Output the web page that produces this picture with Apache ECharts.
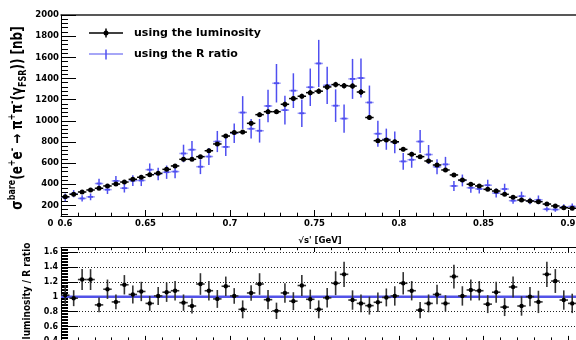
<!DOCTYPE html>
<html><head><meta charset="utf-8">
<script src="https://cdn.jsdelivr.net/npm/echarts@6/dist/echarts.min.js"></script>
<style>html,body{margin:0;padding:0;background:#fff}#c{width:576px;height:340px}</style>
</head><body><div id="c"></div>
<script>
// ---------------- data ----------------
const binCenters = [0.6025,0.6075,0.6125,0.6175,0.6225,0.6275,0.6325,0.6375,0.6425,0.6475,
  0.6525,0.6575,0.6625,0.6675,0.6725,0.6775,0.6825,0.6875,0.6925,0.6975,
  0.7025,0.7075,0.7125,0.7175,0.7225,0.7275,0.7325,0.7375,0.7425,0.7475,
  0.7525,0.7575,0.7625,0.7675,0.7725,0.7775,0.7825,0.7875,0.7925,0.7975,
  0.8025,0.8075,0.8125,0.8175,0.8225,0.8275,0.8325,0.8375,0.8425,0.8475,
  0.8525,0.8575,0.8625,0.8675,0.8725,0.8775,0.8825,0.8875,0.8925,0.8975,
  0.9025];
const binHalfWidth = 0.0025;
const lumiXsec = [282,305,327,346,362,384,402,421,447,466,
  490,503,541,573,636,636,661,717,781,856,
  889,893,976,1058,1086,1086,1156,1210,1232,1266,
  1280,1320,1342,1332,1328,1272,1031,812,818,802,
  730,683,661,620,582,535,488,440,400,384,
  352,336,305,277,251,242,235,213,195,178,
  173];
const lumiErr = [8,8,9,9,9,10,10,10,11,11,12,12,13,13,14,14,15,16,17,18,
  19,19,20,22,22,22,23,24,24,25,25,26,26,26,26,25,22,18,18,18,
  17,16,15,15,14,13,12,11,10,10,9,9,8,8,7,7,7,6,6,6,6];
const rratioXsec = [276,311,266,281,407,349,432,363,434,436,
  538,498,514,520,691,727,566,662,804,753,
  882,1078,925,906,1140,1355,1101,1285,1071,1317,
  1542,1335,1143,1021,1396,1404,1173,878,826,796,
  616,632,804,681,565,588,384,436,367,356,
  391,317,355,245,287,242,253,164,161,186,
  190];
const rratioErr = [36,34,30,32,46,41,46,41,51,53,
  59,59,63,64,83,83,70,80,100,86,
  92,155,93,112,153,182,136,164,130,177,
  223,177,154,134,189,184,160,123,100,102,
  79,76,108,90,71,71,48,56,47,43,
  52,42,50,30,43,31,41,21,21,25,
  27];
const ratio = [1.02,0.98,1.23,1.23,0.89,1.10,0.93,1.16,1.03,1.07,
  0.91,1.01,1.06,1.08,0.92,0.875,1.17,1.08,0.97,1.14,
  1.01,0.83,1.05,1.17,0.96,0.81,1.05,0.94,1.15,0.965,
  0.83,0.985,1.18,1.30,0.955,0.91,0.88,0.925,0.99,1.01,
  1.18,1.08,0.82,0.91,1.03,0.91,1.27,1.01,1.09,1.08,
  0.90,1.06,0.86,1.13,0.875,1.00,0.93,1.30,1.21,0.955,
  0.91];
const ratioErr = [0.134,0.107,0.14,0.14,0.10,0.13,0.10,0.13,0.12,0.13,
  0.10,0.12,0.13,0.13,0.11,0.10,0.145,0.13,0.12,0.13,
  0.105,0.12,0.105,0.145,0.13,0.11,0.13,0.12,0.14,0.13,
  0.12,0.13,0.16,0.17,0.13,0.12,0.12,0.13,0.12,0.13,
  0.15,0.13,0.11,0.12,0.13,0.11,0.16,0.13,0.14,0.13,
  0.12,0.14,0.12,0.14,0.13,0.13,0.15,0.17,0.16,0.13,
  0.13];
const ratioRef = 1;
const xMajorTicks = [0.6,0.65,0.7,0.75,0.8,0.85,0.9];
const yMajorTicks = [200,400,600,800,1000,1200,1400,1600,1800,2000];
const ratioMajorTicks = [0.4,0.6,0.8,1.0,1.2,1.4,1.6];
const legendLabels = ['using the luminosity','using the R ratio'];
const xTitle = '\u221As\' [GeV]';
const ratioTitle = 'luminosity / R ratio';

// minor tick positions (axis decoration)
const xMinorTicks = []; for (let k = 60; k <= 90; k++) xMinorTicks.push(k / 100);
const yMinorTicks = []; for (let v = 120; v <= 2000; v += 40) yMinorTicks.push(v);
const ratioMinorTicks = []; for (let k = 21; k <= 82; k++) ratioMinorTicks.push(+(k * 0.02).toFixed(2));

// ---------------- style ----------------
const FONT = '"DejaVu Sans", sans-serif';
const BLUE = '#4f4ff0', BLUE_L = '#9a9af5';
const xMin = 0.6, xMax = 0.9071;
const yMin = 100, yMax = 2000;
const rMin = 0.4, rMax = 1.66;

function tickAxis(extra) {
  return Object.assign({
    type: 'value', min: xMin, max: xMax,
    axisLine: {show: false, onZero: false},
    axisLabel: {show: false}, splitLine: {show: false}
  }, extra);
}

function errRender(vColor, hColor, lw, markerR, markerColor, centerDash) {
  return function (params, api) {
    const x = api.value(0), y = api.value(1), e = api.value(2);
    const c = api.coord([x, y]);
    const t = api.coord([x, y + e]);
    const b = api.coord([x, y - e]);
    const l = api.coord([x - binHalfWidth, y]);
    const r = api.coord([x + binHalfWidth, y]);
    const ch = [
      {type: 'line', shape: {x1: l[0], y1: c[1], x2: r[0], y2: c[1]}, style: {stroke: hColor, lineWidth: lw}},
      {type: 'line', shape: {x1: c[0], y1: t[1], x2: c[0], y2: b[1]}, style: {stroke: vColor, lineWidth: lw}}
    ];
    if (centerDash) ch.push({type: 'line', shape: {x1: c[0] - 2.5, y1: c[1], x2: c[0] + 2.5, y2: c[1]}, style: {stroke: vColor, lineWidth: lw + 0.3}});
    if (markerR) ch.push({type: 'circle', shape: {cx: c[0], cy: c[1], r: markerR}, style: {fill: markerColor}});
    return {type: 'group', children: ch};
  };
}

const chart = echarts.init(document.getElementById('c'), null, {renderer: 'canvas'});
const labelFont = {fontFamily: FONT, fontWeight: 'bold', color: '#000'};

const option = {
  animation: false,
  backgroundColor: '#fff',
  grid: [
    {left: 61, top: 15, right: -4, height: 201, outerBoundsMode: 'none'},
    {left: 61, top: 247.5, right: -4, height: 93.9, outerBoundsMode: 'none'}
  ],
  xAxis: [
    {type: 'value', gridIndex: 0, position: 'bottom', min: xMin, max: xMax,
      axisLine: {show: true, onZero: false, lineStyle: {color: '#000', width: 1}},
      axisTick: {show: true, inside: true, length: 6, customValues: xMajorTicks, lineStyle: {color: '#000'}},
      axisLabel: Object.assign({show: true, customValues: xMajorTicks, fontSize: 8.5, margin: 3,
        formatter: v => (Math.abs(v - xMin) < 1e-9 ? '{s|' + v + '}' : String(v)),
        rich: {s: {padding: [0, 0, 0, 8], fontSize: 8.5, fontFamily: FONT, fontWeight: 'bold', color: '#000'}}}, labelFont),
      splitLine: {show: false}},
    tickAxis({gridIndex: 0, position: 'bottom', axisTick: {show: true, inside: true, length: 3.3, customValues: xMinorTicks, lineStyle: {color: '#000'}}}),
    tickAxis({gridIndex: 0, position: 'top', axisLine: {show: true, onZero: false, lineStyle: {color: '#222', width: 1.5}}, axisTick: {show: false}}),
    tickAxis({gridIndex: 1, position: 'bottom', axisLine: {show: true, onZero: false, lineStyle: {color: '#000'}},
      axisTick: {show: true, inside: true, length: 5.5, customValues: xMajorTicks, lineStyle: {color: '#000'}}}),
    tickAxis({gridIndex: 1, position: 'bottom', axisTick: {show: true, inside: true, length: 4, customValues: xMinorTicks, lineStyle: {color: '#000'}}}),
    tickAxis({gridIndex: 1, position: 'top', axisLine: {show: true, onZero: false, lineStyle: {color: '#000'}},
      axisTick: {show: true, inside: true, length: 4.5, customValues: xMajorTicks, lineStyle: {color: '#000'}}}),
    tickAxis({gridIndex: 1, position: 'top', axisTick: {show: true, inside: true, length: 2.7, customValues: xMinorTicks, lineStyle: {color: '#000'}}})
  ],
  yAxis: [
    {type: 'value', gridIndex: 0, position: 'left', min: yMin, max: yMax,
      axisLine: {show: true, onZero: false, lineStyle: {color: '#000'}},
      axisTick: {show: true, inside: true, length: 15, customValues: yMajorTicks, lineStyle: {color: '#000'}},
      axisLabel: Object.assign({show: true, customValues: yMajorTicks, fontSize: 8.5, margin: 2,
        formatter: v => String(v)}, labelFont),
      splitLine: {show: false}},
    {type: 'value', gridIndex: 0, position: 'left', min: yMin, max: yMax,
      axisLine: {show: false, onZero: false}, axisLabel: {show: false}, splitLine: {show: false},
      axisTick: {show: true, inside: true, length: 7, customValues: yMinorTicks, lineStyle: {color: '#000'}}},
    {type: 'value', gridIndex: 1, position: 'left', min: rMin, max: rMax, interval: 0.2,
      axisLine: {show: true, onZero: false, lineStyle: {color: '#000'}},
      axisTick: {show: true, inside: true, length: 17, customValues: ratioMajorTicks, lineStyle: {color: '#000'}},
      axisLabel: Object.assign({show: true, customValues: ratioMajorTicks, fontSize: 8, margin: 3,
        formatter: v => String(+v.toFixed(2))}, labelFont),
      splitLine: {show: true, lineStyle: {color: '#222', width: 1, type: [1, 2]}}},
    {type: 'value', gridIndex: 1, position: 'left', min: rMin, max: rMax,
      axisLine: {show: false, onZero: false}, axisLabel: {show: false}, splitLine: {show: false},
      axisTick: {show: true, inside: true, length: 7, customValues: ratioMinorTicks, lineStyle: {color: '#000'}}}
  ],
  series: [
    {type: 'custom', name: legendLabels[1], xAxisIndex: 0, yAxisIndex: 0, z: 3,
      encode: {x: 0, y: 1},
      data: binCenters.map((x, i) => [x, rratioXsec[i], rratioErr[i]]),
      renderItem: errRender(BLUE, BLUE_L, 1.5, 0, null, true)},
    {type: 'custom', name: legendLabels[0], xAxisIndex: 0, yAxisIndex: 0, z: 4,
      encode: {x: 0, y: 1},
      data: binCenters.map((x, i) => [x, lumiXsec[i], lumiErr[i]]),
      renderItem: errRender('#000', '#000', 1.5, 2.5, '#000', false)},
    {type: 'line', xAxisIndex: 3, yAxisIndex: 2, z: 3, showSymbol: false, symbol: 'none',
      data: [[xMin, ratioRef], [xMax, ratioRef]],
      lineStyle: {color: '#5252e8', width: 2.4}},
    {type: 'custom', xAxisIndex: 3, yAxisIndex: 2, z: 4,
      encode: {x: 0, y: 1},
      data: binCenters.map((x, i) => [x, ratio[i], ratioErr[i]]),
      renderItem: errRender('#333', '#333', 1.6, 2.2, '#000', false)}
  ],
  graphic: [
    {type: 'line', shape: {x1: 89, y1: 33, x2: 123, y2: 33}, style: {stroke: '#000', lineWidth: 1.5}},
    {type: 'line', shape: {x1: 106, y1: 28.5, x2: 106, y2: 37.5}, style: {stroke: '#000', lineWidth: 1.5}},
    {type: 'circle', shape: {cx: 106, cy: 33, r: 2.5}, style: {fill: '#000'}},
    {type: 'text', x: 134, y: 33, style: {text: legendLabels[0], font: 'bold 11px ' + FONT, fill: '#000', verticalAlign: 'middle'}},
    {type: 'line', shape: {x1: 89, y1: 54, x2: 123, y2: 54}, style: {stroke: BLUE, lineWidth: 1.2}},
    {type: 'line', shape: {x1: 106, y1: 49.5, x2: 106, y2: 59.5}, style: {stroke: BLUE, lineWidth: 1.5}},
    {type: 'text', x: 134, y: 54, style: {text: legendLabels[1], font: 'bold 11px ' + FONT, fill: '#000', verticalAlign: 'middle'}},
    {type: 'text', x: 50.5, y: 223.7, style: {text: '0', font: 'bold 8.5px ' + FONT, fill: '#000', align: 'center', verticalAlign: 'middle'}},
    {type: 'text', x: 320, y: 241, style: {text: xTitle, font: 'bold 8.5px ' + FONT, fill: '#000', align: 'center', verticalAlign: 'middle'}},
    {type: 'text', x: 27.5, y: 291, rotation: Math.PI / 2, scaleY: 1.15,
      style: {text: ratioTitle, font: 'bold 9px ' + FONT, fill: '#000', align: 'center', verticalAlign: 'middle'}},
    {type: 'text', x: 18, y: 118, rotation: Math.PI / 2, scaleY: 1.25,
      style: {
        text: '{m|\u03c3}{sup|bare}{m|(e}{sup|+}{m|e}{sup|-}{m| \u2192 \u03c0}{sup|+}{m|\u03c0}{sup|-}{m|(\u03b3}{sub|FSR}{m|)) [nb]}',
        align: 'center', verticalAlign: 'middle',
        rich: {
          m: {fontFamily: FONT, fontWeight: 'bold', fontSize: 12, lineHeight: 17, fill: '#000', color: '#000'},
          sup: {fontFamily: FONT, fontWeight: 'bold', fontSize: 8, lineHeight: 8, verticalAlign: 'top', fill: '#000', color: '#000'},
          sub: {fontFamily: FONT, fontWeight: 'bold', fontSize: 8, lineHeight: 8, verticalAlign: 'bottom', fill: '#000', color: '#000'}
        }
      }}
  ]
};
chart.setOption(option);
</script></body></html>
